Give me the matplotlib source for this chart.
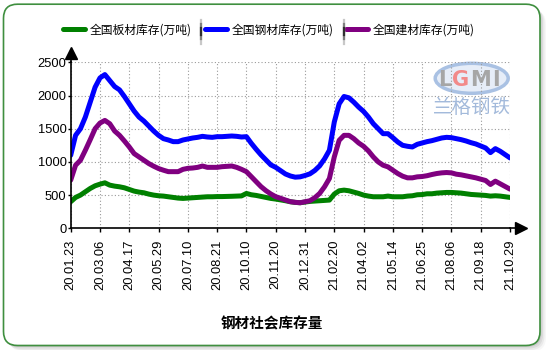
import numpy as np
import matplotlib
matplotlib.use("Agg")
import matplotlib.pyplot as plt
from matplotlib.patches import FancyBboxPatch, Ellipse
from matplotlib.lines import Line2D
from matplotlib.transforms import IdentityTransform

# weekly inventory, 万吨
plate = [400, 465, 500, 550, 600, 640, 665, 685, 650, 635, 625, 610, 585, 560, 545, 535, 515, 500, 490, 485,
         475, 465, 455, 450, 455, 460, 465, 470, 475, 475,
         478, 478, 480, 482, 485, 488, 525, 505, 495, 480,
         465, 450, 440, 428, 415, 400, 390, 385, 395, 405,
         410, 415, 420, 425, 515, 565, 575, 565, 545, 525,
         500, 485, 475, 475, 475, 485, 475, 475, 475, 485,
         490, 505, 508, 520, 520, 530, 535, 540, 540, 535,
         530, 520, 510, 505, 500, 495, 485, 490, 485, 475,
         465]
steel = [1100, 1400, 1500, 1675, 1900, 2125, 2265, 2315, 2225, 2135, 2085, 1985, 1875, 1765, 1675, 1615, 1540, 1465, 1400, 1350,
         1330, 1305, 1305, 1330, 1345, 1360, 1370, 1385, 1375, 1370,
         1380, 1380, 1385, 1390, 1385, 1375, 1380, 1280, 1190, 1105,
         1030, 955, 918, 868, 818, 788, 770, 775, 795, 820,
         870, 940, 1045, 1175, 1600, 1875, 1985, 1965, 1900, 1825,
         1760, 1675, 1575, 1500, 1425, 1425, 1365, 1300, 1250, 1235,
         1225, 1265, 1285, 1305, 1320, 1340, 1360, 1370, 1365, 1350,
         1335, 1315, 1290, 1270, 1240, 1210, 1140, 1200, 1160, 1110,
         1060]
construction = [725, 950, 1025, 1175, 1335, 1500, 1585, 1625, 1575, 1465, 1400, 1315, 1225, 1125, 1075, 1025, 975, 935, 900, 875,
                853, 853, 853, 888, 903, 908, 918, 938, 918, 918,
                918, 928, 933, 938, 918, 888, 853, 778, 702, 627,
                567, 517, 476, 452, 426, 401, 391, 385, 400, 415,
                460, 525, 625, 750, 1075, 1325, 1400, 1400, 1350, 1285,
                1235, 1165, 1075, 1000, 950, 925, 875, 825, 785, 760,
                760, 775, 780, 792, 810, 825, 835, 840, 835, 815,
                805, 790, 775, 760, 740, 720, 660, 710, 670, 630,
                590]
tick_labels = ["20.01.23", "20.03.06", "20.04.17", "20.05.29", "20.07.10", "20.08.21",
               "20.10.10", "20.11.20", "20.12.31", "21.02.20", "21.04.02", "21.05.14",
               "21.06.25", "21.08.06", "21.09.18", "21.10.29"]
series_names = ["全国板材库存(万吨)", "全国钢材库存(万吨)", "全国建材库存(万吨)"]
title = "钢材社会库存量"

cjk = ["Noto Sans CJK SC", "DejaVu Sans"]
num_font = "Liberation Sans"

W, H = 550, 350
fig = plt.figure(figsize=(W / 100, H / 100), dpi=100)
fig.patch.set_facecolor("white")

# rounded frame with soft shadow
for off, a in [(6, 0.06), (4.5, 0.10), (3, 0.14), (1.5, 0.18)]:
    sh = FancyBboxPatch((3.5 + off, 4.5 - off), 536.5, 341.3,
                        boxstyle="round,pad=0,rounding_size=14",
                        transform=IdentityTransform(), facecolor="#808080",
                        edgecolor="none", alpha=a, zorder=-3)
    fig.add_artist(sh)
frame = FancyBboxPatch((3.5, 4.5), 536.5, 341.3, boxstyle="round,pad=0,rounding_size=14",
                       transform=IdentityTransform(), facecolor="white",
                       edgecolor="#3f8f3f", lw=1.2, zorder=-2)
fig.add_artist(frame)

ax = fig.add_axes([70.7 / W, 1 - 228.3 / H, 439.3 / W, 166 / H])
ax.patch.set_visible(False)

x = np.arange(len(steel))
line_kw = dict(lw=3.6, solid_joinstyle="round", solid_capstyle="round")
l1, = ax.plot(x, plate, color="#008000", label=series_names[0], **line_kw)
l2, = ax.plot(x, steel, color="#0000ff", label=series_names[1], **line_kw)
l3, = ax.plot(x, construction, color="#800080", label=series_names[2], **line_kw)

ax.set_xlim(0, len(steel) - 1)
ax.set_ylim(0, 2500)
ax.set_xticks(x[::6])
ax.set_xticklabels(tick_labels, rotation=90, fontfamily=num_font, fontsize=9.3)
ax.set_yticks(np.arange(0, 2501, 500))
ax.set_yticklabels([str(v) for v in range(0, 2501, 500)], fontfamily=num_font, fontsize=9.3)
ax.tick_params(axis="x", length=3, width=1, pad=5)
ax.tick_params(axis="y", length=2.5, width=1, pad=0.5)
ax.grid(True, linestyle=(0, (1, 2)), color="#9a9a9a", lw=0.8)
ax.set_axisbelow(True)
for s in ["top", "right"]:
    ax.spines[s].set_visible(False)
for s in ["left", "bottom"]:
    ax.spines[s].set_linewidth(1.2)

# axis arrows
ax.plot([0, 0], [1, 1.04], color="k", lw=1.2, transform=ax.transAxes, clip_on=False)
ax.plot(0, 1.058, marker="^", ms=8, color="k", transform=ax.transAxes, clip_on=False)
ax.plot([1, 1.018], [0, 0], color="k", lw=1.2, transform=ax.transAxes, clip_on=False)
ax.plot(1.026, 0, marker=">", ms=8, color="k", transform=ax.transAxes, clip_on=False)

# watermark
ell = Ellipse((471.7 / W, 1 - 78.3 / H), 73 / W, 30 / H, transform=fig.transFigure,
              facecolor="#e6edf8", edgecolor="#a9c1e3", lw=2.5, zorder=-1)
fig.add_artist(ell)
for ch, cx, col in [("L", 445, "#a6a6a6"), ("G", 461, "#f28a8a"),
                    ("M", 480.5, "#a6a6a6"), ("I", 495.5, "#a6a6a6")]:
    fig.text(cx / W, 1 - 80 / H, ch, ha="center", va="center", fontsize=15,
             fontweight="bold", color=col, family="DejaVu Sans", zorder=-1)
fig.text(471.7 / W, 1 - 107.5 / H, "兰格钢铁", ha="center", va="center", fontsize=14,
         color="#a3badb", family=cjk, zorder=-1)

# legend
ax.legend(handles=[l1, l2, l3], ncol=3, loc="center", bbox_to_anchor=(269 / W, 1 - 29.8 / H),
          bbox_transform=fig.transFigure, frameon=False, prop={"family": cjk, "size": 8.5},
          handlelength=1.86, handletextpad=0.38, columnspacing=1.1, borderpad=0)
for sx in [201, 343.5]:
    for frac, col in [(1.0, "#c8c8c8"), (0.6, "#808080"), (0.3, "#303030")]:
        half = 12 * frac
        fig.add_artist(Line2D([sx / W, sx / W], [1 - (31.5 - half) / H, 1 - (31.5 + half) / H],
                              transform=fig.transFigure, color=col, lw=1.6))

fig.text(271.8 / W, 1 - 323.4 / H, title, ha="center", va="center", fontsize=10.5,
         fontweight="bold", family=cjk)

fig.savefig("out.png", dpi=100)
